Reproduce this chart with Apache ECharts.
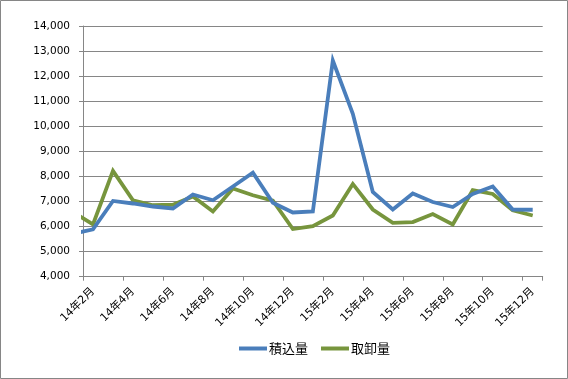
<!DOCTYPE html>
<html>
<head>
<meta charset="utf-8">
<script src="https://cdn.jsdelivr.net/npm/echarts@6/dist/echarts.min.js"></script>
<style>
html,body{margin:0;padding:0;background:#fff;}
#c{width:568px;height:379px;}
</style>
</head>
<body>
<div id="c"></div>
<script>
// Categories (14年1月 lies just left of the visible axis; its line segment is clipped)
const months = ['14年1月','14年2月','14年3月','14年4月','14年5月','14年6月','14年7月','14年8月','14年9月','14年10月','14年11月','14年12月',
                '15年1月','15年2月','15年3月','15年4月','15年5月','15年6月','15年7月','15年8月','15年9月','15年10月','15年11月','15年12月'];
const loading   = [5710,5890,7020,6920,6800,6720,7280,7050,7600,8150,6950,6560,6600,12620,10500,7380,6680,7320,6980,6780,7300,7600,6680,6670]; // 積込量
const unloading = [6580,6090,8220,7050,6850,6870,7200,6600,7520,7250,7030,5900,6020,6440,7700,6680,6150,6180,6500,6080,7450,7300,6650,6440]; // 取卸量
const seriesNames = ['積込量','取卸量'];
const yTicks = [4000,5000,6000,7000,8000,9000,10000,11000,12000,13000,14000];
const xLabelIdx = [1,3,5,7,9,11,13,15,17,19,21,23];
const xTickPos = [0.5,2.5,4.5,6.5,8.5,10.5,12.5,14.5,16.5,18.5,20.5,22.5,23.5];

const chart = echarts.init(document.getElementById('c'), null, {renderer:'canvas'});
const grey = '#868686';
const toPairs = arr => arr.map((v,i)=>[i,v]);

chart.setOption({
  animation:false,
  backgroundColor:'#fff',
  graphic:[{type:'rect',shape:{x:0.5,y:0.5,width:567,height:378},style:{fill:'none',stroke:grey,lineWidth:1},silent:true}],
  grid:{left:83,right:25.3,top:26,bottom:102.3},
  legend:{
    data:seriesNames, left:234, top:337, icon:'rect', itemWidth:28, itemHeight:4, itemGap:13,
    textStyle:{fontFamily:'Noto Sans CJK JP', fontSize:13, color:'#000', padding:[0,0,0,-3]}
  },
  xAxis:{
    type:'value', min:0.5, max:23.5,
    axisLine:{show:true,lineStyle:{color:grey,width:1}},
    axisTick:{show:true,length:4,customValues:xTickPos,lineStyle:{color:grey}},
    splitLine:{show:false},
    axisLabel:{customValues:xLabelIdx, rotate:45, margin:13, color:'#000',
      fontFamily:'DejaVu Sans, Noto Sans CJK JP', fontSize:11,
      formatter:v=>months[Math.round(v)]}
  },
  yAxis:{
    type:'value', min:yTicks[0], max:yTicks[yTicks.length-1], interval:1000,
    axisLine:{show:true,lineStyle:{color:grey,width:1}},
    axisTick:{show:true,length:4,lineStyle:{color:grey}},
    splitLine:{show:true,lineStyle:{color:grey,width:1}},
    axisLabel:{margin:13,color:'#000',fontFamily:'DejaVu Sans',fontSize:10.5,
      formatter:v=>v.toLocaleString('en-US')}
  },
  series:[
    {name:seriesNames[0],type:'line',data:toPairs(loading),symbol:'none',clip:true,
     lineStyle:{color:'#4A7EBB',width:3.8,join:'miter'},itemStyle:{color:'#4A7EBB'},z:3},
    {name:seriesNames[1],type:'line',data:toPairs(unloading),symbol:'none',clip:true,
     lineStyle:{color:'#77953D',width:3.8,join:'miter'},itemStyle:{color:'#77953D'},z:2}
  ]
});
</script>
</body>
</html>
